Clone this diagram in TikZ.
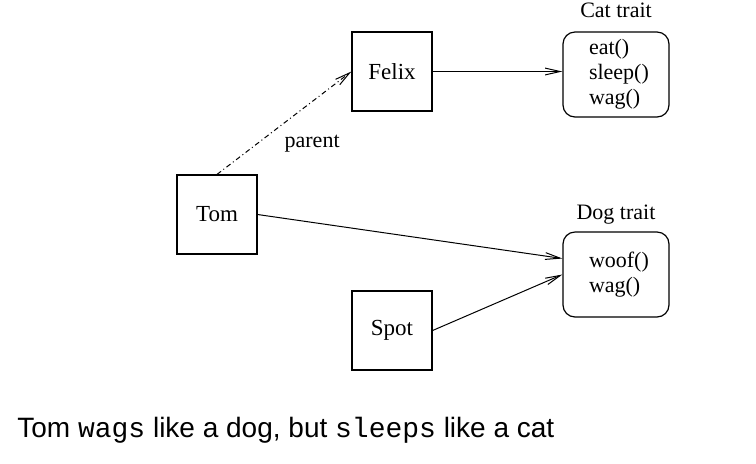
\documentclass[tikz,border=0pt]{standalone}
\usepackage{fontspec}
\setmainfont{Liberation Serif}
\setsansfont{Liberation Sans}
\setmonofont{Liberation Mono}
\usetikzlibrary{positioning,arrows.meta}
\tikzset{
  objbox/.style={draw,line width=0.6pt,minimum width=40pt,minimum height=39.5pt,inner sep=0pt,font=\fontsize{11.5}{13}\selectfont},
  traitbox/.style={draw,line width=0.6pt,rounded corners=6pt,align=left,text width=27pt,inner xsep=13pt,minimum height=42.5pt},
  msgflow/.style={-{Straight Barb[length=7.5pt,width=3.4pt]},line width=0.5pt},
  parentflow/.style={msgflow,dash pattern=on 2.5pt off 1.5pt on 0.5pt off 1.5pt}
}

\begin{document}
\begin{tikzpicture}[x=0.5pt,y=-0.5pt,font=\fontsize{11}{12.5}\selectfont]
  \useasboundingbox (0,0) rectangle (756,463);
  \node[objbox] (felix) at (392,71.5) {Felix};
  \node[objbox] (tom) at (217,214.5) {Tom};
  \node[objbox] (spot) at (392,330.5) {Spot};
  \node[traitbox,label={[label distance=3.5pt]above:Cat trait}] (cat) at (616,74.5) {eat()\\sleep()\\wag()};
  \node[traitbox,label=above:Dog trait] (dog) at (616,274.5) {woof()\\wag()};
  \draw[msgflow] (felix.east) -- (felix.east -| cat.west);
  \draw[parentflow] (tom.north) -- node[pos=0.45,below right]{parent} (felix.west);
  \draw[msgflow] (tom.east) -- ([yshift=8pt]dog.west);
  \draw[msgflow] (spot.east) -- (dog.west);
  \node[anchor=base west,inner sep=0pt,font=\sffamily\fontsize{14}{16}\selectfont] (moral) at (17,437) {Tom \texttt{wags} like a dog, but \texttt{sleeps} like a cat};
\end{tikzpicture}
\end{document}
